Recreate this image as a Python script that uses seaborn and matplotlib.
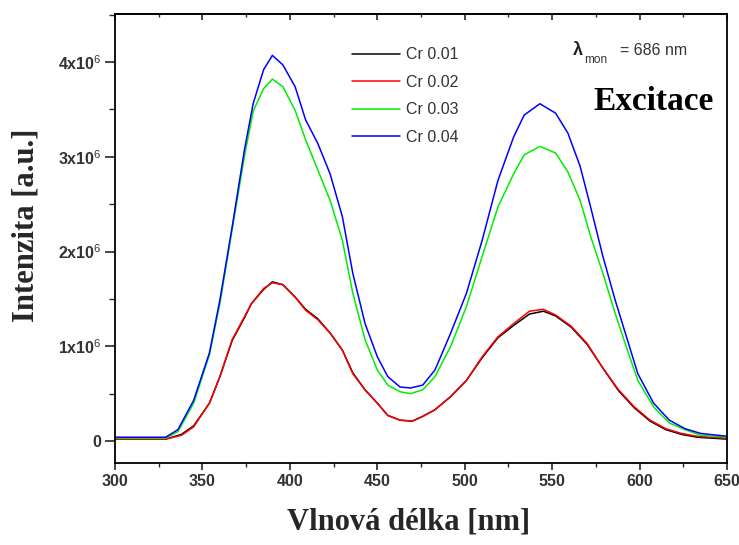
import pandas as pd
import seaborn as sns
import matplotlib.pyplot as plt
from matplotlib.ticker import MultipleLocator, FuncFormatter

# | Data |-------------------------------------------------------------------------------------------------------------|
# wavelength grids [nm]
wl_blue_green = [300, 329, 336, 345, 354, 360, 367, 374, 379, 385, 390, 396, 403, 409, 416,
                 423, 430, 436, 443, 450, 456, 463, 469, 476, 483, 492, 501, 510, 519, 528,
                 534, 543, 552, 559, 566, 572, 579, 586, 593, 599, 608, 617, 626, 635, 650]
wl_black_red = [300, 329, 338, 345, 354, 360, 367, 374, 378, 385, 390, 396, 403, 409, 416,
                423, 430, 436, 443, 450, 456, 463, 470, 476, 483, 492, 501, 510, 519, 528,
                537, 545, 552, 561, 570, 579, 588, 597, 606, 615, 624, 633, 650]

# intensity [x10^6 a.u.]
cr_001 = [0.02, 0.02, 0.07, 0.16, 0.40, 0.68, 1.06, 1.30, 1.45, 1.60, 1.68, 1.65, 1.52, 1.39, 1.29,
          1.14, 0.96, 0.72, 0.54, 0.40, 0.27, 0.22, 0.21, 0.26, 0.33, 0.47, 0.64, 0.88, 1.09, 1.22,
          1.34, 1.37, 1.32, 1.20, 1.02, 0.77, 0.53, 0.35, 0.21, 0.12, 0.07, 0.04, 0.02]
cr_002 = [0.02, 0.02, 0.06, 0.15, 0.40, 0.68, 1.07, 1.31, 1.45, 1.61, 1.67, 1.65, 1.52, 1.38, 1.28,
          1.14, 0.96, 0.71, 0.54, 0.40, 0.27, 0.22, 0.21, 0.26, 0.33, 0.47, 0.64, 0.89, 1.10, 1.24,
          1.37, 1.39, 1.33, 1.21, 1.03, 0.77, 0.54, 0.36, 0.22, 0.13, 0.08, 0.05, 0.03]
cr_003 = [0.03, 0.03, 0.10, 0.40, 0.91, 1.45, 2.23, 3.00, 3.48, 3.72, 3.82, 3.74, 3.49, 3.18, 2.86,
          2.54, 2.12, 1.56, 1.07, 0.75, 0.59, 0.52, 0.50, 0.54, 0.68, 1.00, 1.42, 1.95, 2.47, 2.82,
          3.02, 3.11, 3.04, 2.84, 2.54, 2.16, 1.77, 1.35, 0.96, 0.64, 0.36, 0.19, 0.12, 0.06, 0.04]
cr_004 = [0.04, 0.04, 0.12, 0.43, 0.93, 1.49, 2.26, 3.07, 3.56, 3.92, 4.07, 3.97, 3.74, 3.39, 3.14,
          2.82, 2.37, 1.77, 1.24, 0.89, 0.68, 0.57, 0.56, 0.59, 0.75, 1.14, 1.56, 2.12, 2.75, 3.21,
          3.44, 3.56, 3.46, 3.25, 2.90, 2.47, 1.95, 1.49, 1.07, 0.71, 0.40, 0.22, 0.13, 0.08, 0.05]

labels = ["Cr 0.01", "Cr 0.02", "Cr 0.03", "Cr 0.04"]
colors = ["black", "#ff0000", "#00ee00", "#0000ff"]
# |--------------------------------------------------------------------------------------------------------------------|

df = pd.concat([
    pd.DataFrame({"wl": wl_black_red, "val": cr_001, "sample": labels[0]}),
    pd.DataFrame({"wl": wl_black_red, "val": cr_002, "sample": labels[1]}),
    pd.DataFrame({"wl": wl_blue_green, "val": cr_003, "sample": labels[2]}),
    pd.DataFrame({"wl": wl_blue_green, "val": cr_004, "sample": labels[3]}),
], ignore_index=True)

sns.set_style("ticks")
plt.rcParams["font.family"] = ["Liberation Sans", "DejaVu Sans"]
plt.rcParams["mathtext.fontset"] = "custom"
plt.rcParams["mathtext.rm"] = "Liberation Sans"
plt.rcParams["axes.linewidth"] = 1.3

W, H = 739, 545
fig = plt.figure(figsize=(W / 100, H / 100), dpi=100)
ax = fig.add_axes([115 / W, 82 / H, 612 / W, 449 / H])

sns.lineplot(data=df, x="wl", y="val", hue="sample", hue_order=labels,
             palette=dict(zip(labels, colors)), estimator=None, sort=False,
             linewidth=1.1, ax=ax)

ax.set_xlim(300, 650)
ax.set_ylim(-0.232, 4.507)
for side in ["top", "right", "left", "bottom"]:
    ax.spines[side].set_visible(True)
    ax.spines[side].set_color("black")

ax.xaxis.set_major_locator(MultipleLocator(50))
ax.xaxis.set_minor_locator(MultipleLocator(25))
ax.yaxis.set_major_locator(MultipleLocator(1))
ax.yaxis.set_minor_locator(MultipleLocator(0.5))
ax.yaxis.set_major_formatter(FuncFormatter(lambda v, p: "0" if abs(v) < 1e-9 else f"{int(round(v))}x10$^{{6}}$"))
ax.xaxis.set_major_formatter(FuncFormatter(lambda v, p: f"{int(v)}"))

ax.tick_params(axis="x", which="major", direction="out", length=5, width=1.2, pad=3,
               labelsize=11.5, labelcolor="#333333")
ax.tick_params(axis="x", which="minor", direction="out", length=3, width=1.0)
ax.tick_params(axis="y", which="major", direction="out", length=7, width=1.2, pad=3,
               labelsize=11.5, labelcolor="#333333")
ax.tick_params(axis="y", which="minor", direction="out", length=4.5, width=1.0)

top = ax.secondary_xaxis("top")
top.xaxis.set_major_locator(MultipleLocator(50))
top.xaxis.set_minor_locator(MultipleLocator(25))
top.tick_params(which="major", direction="in", length=4, width=1.2, labeltop=False)
top.tick_params(which="minor", direction="in", length=2.5, width=1.0)
top.spines["top"].set_linewidth(1.3)

for lab in ax.get_xticklabels() + ax.get_yticklabels():
    lab.set_fontweight("bold")

ax.set_xlabel("Vlnová délka [nm]", fontsize=22, fontweight="bold", family="Liberation Serif")
ax.set_ylabel("Intenzita [a.u.]", fontsize=22, fontweight="bold", family="Liberation Serif")
ax.xaxis.set_label_coords(0.479, -0.100)
ax.yaxis.set_label_coords(-0.122, 0.53)

leg = ax.legend(title=None, frameon=False, loc="upper left", bbox_to_anchor=(0.387, 0.926),
                fontsize=11.5, handlelength=3.0, handletextpad=0.4, labelspacing=0.78,
                borderpad=0, borderaxespad=0)
for t in leg.get_texts():
    t.set_color("#333333")


def px(x, y):
    return x / W, 1 - y / H


fig.text(*px(573, 55), "λ", fontsize=13, fontweight="bold", color="#222222", va="baseline")
fig.text(*px(584, 63), "mon", fontsize=8.5, color="#333333", va="baseline")
fig.text(*px(620, 55), "= 686 nm", fontsize=11.5, color="#333333", va="baseline")
fig.text(*px(593, 110), "Excitace", fontsize=24, fontweight="bold", family="Liberation Serif",
         color="black", va="baseline")

fig.savefig("out.png", dpi=100)
